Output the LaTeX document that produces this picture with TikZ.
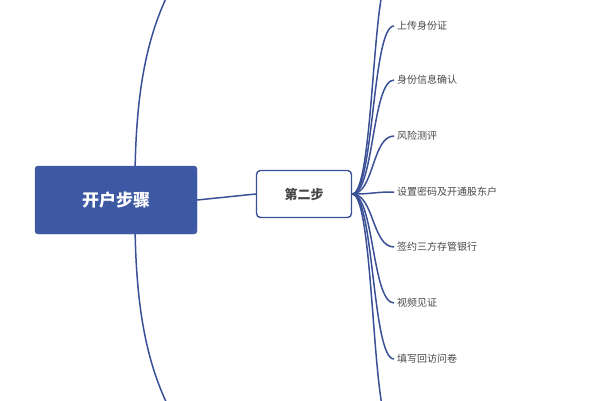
\documentclass[tikz,border=0pt]{standalone}
\usepackage{fontspec}
\setmainfont{Noto Sans CJK SC}
\usetikzlibrary{backgrounds}
\definecolor{mapblue}{HTML}{3D59A4}
\definecolor{mapline}{HTML}{3A5096}
\definecolor{leafgray}{HTML}{474747}

\begin{document}
\begin{tikzpicture}
	[x=1pt,y=-1pt,
	rootbox/.style={rectangle, rounded corners=3pt, fill=mapblue, draw=mapblue, text=white, font=\bfseries\fontsize{17}{17}\selectfont, minimum width=162pt, minimum height=68pt},
	stepbox/.style={rectangle, rounded corners=4pt, draw=mapline, line width=1.4pt, fill=white, text=leafgray, font=\bfseries\fontsize{13}{13}\selectfont, minimum width=95pt, minimum height=47pt},
	leaf/.style={anchor=west, text=leafgray, font=\fontsize{10}{10}\selectfont, inner sep=1pt},
	branch/.style={draw=mapline, line width=1.5pt}]
	\useasboundingbox (0,0) rectangle (600,400);
	\node[rootbox] (root) at (116,200) {开户步骤};
	\node[stepbox] (step2) at (304,194) {第二步};
	
	\node[leaf] (l1) at (396,26) {上传身份证};
	\node[leaf] (l2) at (396,80) {身份信息确认};
	\node[leaf] (l3) at (396,136) {风险测评};
	\node[leaf] (l4) at (396,192) {设置密码及开通股东户};
	\node[leaf] (l5) at (396,247) {签约三方存管银行};
	\node[leaf] (l6) at (396,303) {视频见证};
	\node[leaf] (l7) at (396,359) {填写回访问卷};
	\coordinate (up) at (170,-10);
	\coordinate (down) at (170,410);
	\coordinate (topleaf) at (392,-25);
	\coordinate (botleaf) at (392,425);
	
	\begin{scope}[on background layer]
		\draw[branch] (135,200) .. controls (134,100) and (145,40) .. (up);
		\draw[branch] (135,200) .. controls (134,300) and (145,360) .. (down);
		\draw[branch] (root.east) -- (step2.west);
		\foreach \leafname in {l1,l2,l3,l4,l5,l6,l7,topleaf,botleaf}
			\draw[branch] (step2.east) .. controls (374,194) and (372,0|-\leafname) .. ([xshift=-2pt]\leafname.west);
	\end{scope}
\end{tikzpicture}
\end{document}
